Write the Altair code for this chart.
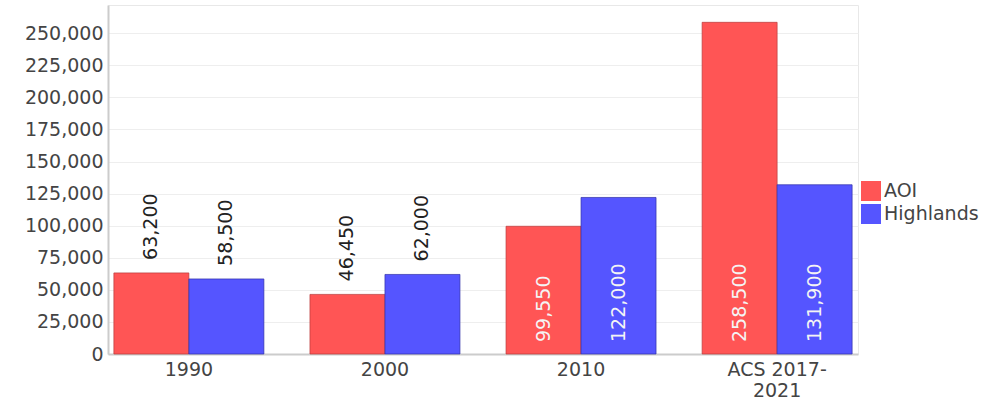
import altair as alt
import pandas as pd

periods = ["1990", "2000", "2010", "ACS 2017-2021"]
aoi = [63200, 46450, 99550, 258500]
highlands = [58500, 62000, 122000, 131900]
series_names = ["AOI", "Highlands"]
series_colors = ["#ff5555", "#5555ff"]
series_strokes = ["#b83a3a", "#2f2fa8"]

rows = []
for p, a, h in zip(periods, aoi, highlands):
    rows.append({"period": p, "series": "AOI", "value": a, "zero": 0})
    rows.append({"period": p, "series": "Highlands", "value": h, "zero": 0})
df = pd.DataFrame(rows)

font = "DejaVu Sans"
fsize = 19
inside_threshold = 90000


def x_enc():
    return alt.X(
        "period:N",
        sort=periods,
        title=None,
        scale=alt.Scale(paddingInner=0.235, paddingOuter=0.03),
        axis=alt.Axis(
            labelAngle=0,
            labelPadding=6,
            labelLineHeight=21,
            ticks=False,
            grid=False,
            labelExpr="datum.label == 'ACS 2017-2021' ? ['ACS 2017-', '2021'] : datum.label",
        ),
    )


def y_enc(field):
    return alt.Y(
        f"{field}:Q",
        title=None,
        scale=alt.Scale(domain=[0, 272000], nice=False),
        axis=alt.Axis(
            values=list(range(0, 250001, 25000)),
            format=",d",
            labelPadding=5,
            ticks=False,
            grid=True,
        ),
    )


xoff = alt.XOffset("series:N", sort=series_names, scale=alt.Scale(paddingInner=0, paddingOuter=0))

base = alt.Chart(df)

bars = base.mark_bar(strokeWidth=1, strokeOpacity=0.7).encode(
    x=x_enc(),
    y=y_enc("value"),
    xOffset=xoff,
    color=alt.Color(
        "series:N",
        sort=series_names,
        scale=alt.Scale(domain=series_names, range=series_colors),
        legend=alt.Legend(
            title=None,
            orient="none",
            legendX=753,
            legendY=176,
            symbolType="square",
            symbolSize=400,
            symbolStrokeWidth=0,
            labelFontSize=fsize,
            labelFont=font,
            labelColor="#444444",
            labelOffset=3,
            rowPadding=3,
            padding=0,
        ),
    ),
    stroke=alt.Stroke(
        "series:N",
        sort=series_names,
        scale=alt.Scale(domain=series_names, range=series_strokes),
        legend=None,
    ),
)

above = base.transform_filter(f"datum.value < {inside_threshold}").mark_text(
    angle=270, align="left", baseline="middle", dx=13, fontSize=fsize, font=font, color="#222222"
).encode(
    x=x_enc(),
    y=y_enc("value"),
    xOffset=xoff,
    text=alt.Text("value:Q", format=","),
)

inside = base.transform_filter(f"datum.value >= {inside_threshold}").mark_text(
    angle=270, align="left", baseline="middle", dx=12, fontSize=fsize, font=font, color="#f4f4f4"
).encode(
    x=x_enc(),
    y=y_enc("zero"),
    xOffset=xoff,
    text=alt.Text("value:Q", format=","),
)

chart = (
    alt.layer(bars, above, inside)
    .properties(
        width=750,
        height=349,
        autosize=alt.AutoSizeParams(type="none"),
        padding={"left": 108, "top": 5, "right": 147, "bottom": 48},
        background="white",
    )
    .configure_view(stroke="#e8e8e8", strokeWidth=1)
    .configure_axis(
        labelFontSize=fsize,
        labelFont=font,
        labelColor="#444444",
        domainColor="#cccccc",
        domainWidth=2,
        gridColor="#eeeeee",
        gridWidth=1,
    )
)

chart.save("out.html", embed_options={"renderer": "svg", "actions": False})
